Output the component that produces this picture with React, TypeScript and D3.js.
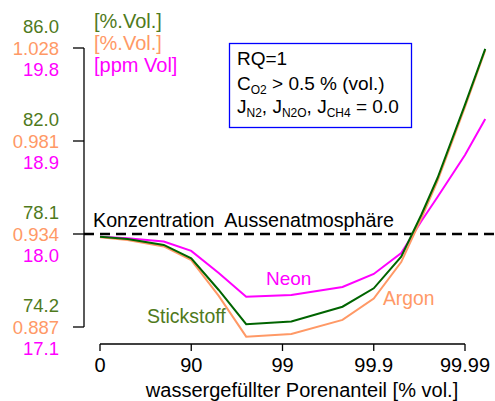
import React from 'react';
import * as d3 from 'd3';

// water-filled pore fraction [% vol.] at the sampled points
const poreWater = [0, 50, 80, 90, 95, 97.5, 99.2, 99.78, 99.9, 99.95, 99.97, 99.98, 99.99, 99.994];

// concentrations relative to the outside atmosphere (C / C_atm)
const nitrogen = [0.9985, 0.9973, 0.9941, 0.9869, 0.9699, 0.9515, 0.953, 0.9609, 0.9708, 0.9878, 1.0105, 1.0301, 1.0696, 1.0995];
const argon = [0.9982, 0.9968, 0.9933, 0.986, 0.9667, 0.9448, 0.9462, 0.9538, 0.9653, 0.9849, 1.0086, 1.0285, 1.0683, 1.0989];
const neon = [0.9985, 0.9977, 0.996, 0.9909, 0.979, 0.9663, 0.9672, 0.9715, 0.9785, 0.9898, 1.007, 1.0199, 1.0425, 1.0618];

const relTicks = [0.95, 1.0, 1.05, 1.1];
const n2Labels = ['74.2', '78.1', '82.0', '86.0'];
const arLabels = ['0.887', '0.934', '0.981', '1.028'];
const neLabels = ['17.1', '18.0', '18.9', '19.8'];

const xTickValues = [0, 90, 99, 99.9, 99.99];
const xTickLabels = ['0', '90', '99', '99.9', '99.99'];

const GREEN = '#006400';
const GREEN_TXT = '#4f7a1c';
const ORANGE = '#ff9966';
const MAGENTA = '#ff00ff';
const FONT = 'Liberation Sans, Arial, sans-serif';

// position on the axis = -log10(air-filled fraction)
const toLog = (p: number) => -Math.log10(1 - p / 100);

export default function App() {
  const x = d3.scaleLinear().domain([0, 4]).range([100, 465]);
  const y = d3.scaleLinear().domain([0.95, 1.1]).range([327, 48]);

  const line = d3
    .line<number>()
    .x((_, i) => x(toLog(poreWater[i])))
    .y((d) => y(d));

  const sub = (t: string) => (
    <tspan fontSize={12} dy={4}>
      {t}
    </tspan>
  );

  return (
    <svg
      width={495}
      height={401}
      style={{ position: 'fixed', left: 0, top: 0, background: '#fff' }}
      fontFamily={FONT}
    >
      {/* y axis */}
      <line x1={84} x2={84} y1={y(0.95)} y2={y(1.1)} stroke="#000" strokeWidth={1.3} />
      {relTicks.map((t, i) => (
        <g key={t}>
          <line x1={73} x2={84} y1={y(t)} y2={y(t)} stroke="#000" strokeWidth={1.3} />
          <text x={59} y={y(t) - 15} textAnchor="end" fontSize={18.5} fill={GREEN_TXT}>
            {n2Labels[i]}
          </text>
          <text x={59} y={y(t) + 7} textAnchor="end" fontSize={18.5} fill={ORANGE}>
            {arLabels[i]}
          </text>
          <text x={59} y={y(t) + 28} textAnchor="end" fontSize={18.5} fill={MAGENTA}>
            {neLabels[i]}
          </text>
        </g>
      ))}
      <text x={94} y={28} fontSize={20} fill={GREEN_TXT}>[%.Vol.]</text>
      <text x={94} y={50} fontSize={20} fill={ORANGE}>[%.Vol.]</text>
      <text x={94} y={72} fontSize={20} fill={MAGENTA}>[ppm Vol]</text>

      {/* x axis */}
      <line x1={x(0)} x2={x(4)} y1={344} y2={344} stroke="#000" strokeWidth={1.3} />
      {xTickValues.map((v, i) => (
        <g key={v}>
          <line x1={x(toLog(v))} x2={x(toLog(v))} y1={344} y2={351} stroke="#000" strokeWidth={1.3} />
          <text x={x(toLog(v))} y={372} textAnchor="middle" fontSize={20} fill="#000">
            {xTickLabels[i]}
          </text>
        </g>
      ))}
      <text x={302} y={397} textAnchor="middle" fontSize={20} fill="#000">
        wassergefüllter Porenanteil [% vol.]
      </text>

      {/* atmosphere reference */}
      <line x1={84} x2={495} y1={y(1)} y2={y(1)} stroke="#000" strokeWidth={2.5} strokeDasharray="10,6" />
      <text x={93} y={227} fontSize={19.7} fill="#000" style={{ whiteSpace: 'pre' }}>
        Konzentration  Aussenatmosphäre
      </text>

      {/* curves */}
      <path d={line(neon) || ''} fill="none" stroke={MAGENTA} strokeWidth={2} />
      <path d={line(argon) || ''} fill="none" stroke={ORANGE} strokeWidth={2} />
      <path d={line(nitrogen) || ''} fill="none" stroke={GREEN} strokeWidth={2} />

      <text x={266} y={285} fontSize={19} fill={MAGENTA}>Neon</text>
      <text x={147} y={323} fontSize={19.5} fill={GREEN_TXT}>Stickstoff</text>
      <text x={383} y={305} fontSize={19.3} fill={ORANGE}>Argon</text>

      {/* info box */}
      <rect x={229.5} y={43.5} width={182} height={84} fill="#fff" stroke="#0000ff" strokeWidth={1.3} />
      <text x={237} y={65} fontSize={19} fill="#000">RQ=1</text>
      <text x={237} y={90} fontSize={19} fill="#000">
        C{sub('O2')}
        <tspan dy={-4}> &gt; 0.5 % (vol.)</tspan>
      </text>
      <text x={237} y={113} fontSize={19} fill="#000">
        J{sub('N2')}
        <tspan dy={-4}>, J</tspan>
        {sub('N2O')}
        <tspan dy={-4}>, J</tspan>
        {sub('CH4')}
        <tspan dy={-4}> = 0.0</tspan>
      </text>
    </svg>
  );
}
